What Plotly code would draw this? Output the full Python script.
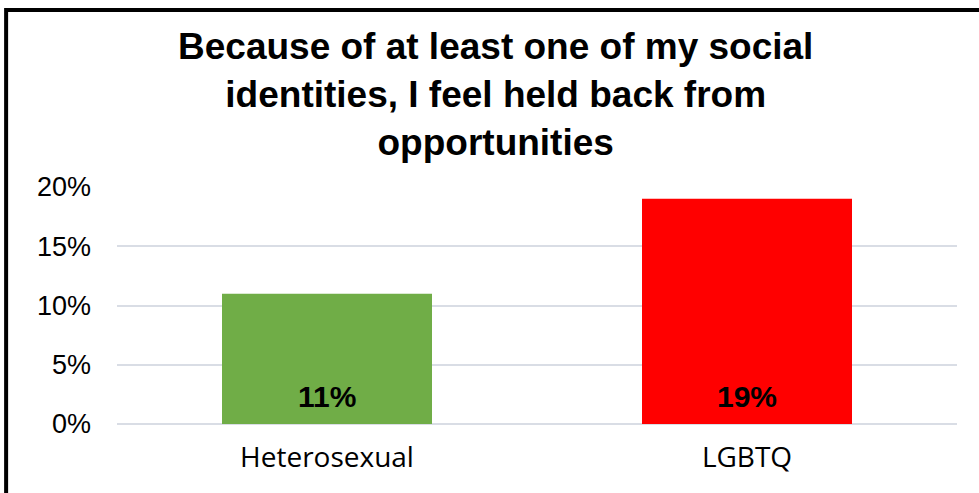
import plotly.graph_objects as go

categories = ["Heterosexual", "LGBTQ"]
values = [11, 19]
bar_colors = ["#70AD47", "#FF0000"]
value_labels = ["11%", "19%"]
tick_vals = [0, 5, 10, 15, 20]
tick_text = ["0%", "5%", "10%", "15%", "20%"]
title_lines = [
    "Because of at least one of my social",
    "identities, I feel held back from",
    "opportunities",
]

fig = go.Figure()
fig.add_trace(go.Bar(
    x=categories,
    y=values,
    marker=dict(color=bar_colors, line=dict(width=0)),
    width=0.5,
    hoverinfo="skip",
))

# value labels sitting at the base of each bar
for cat, val, lab in zip(categories, values, value_labels):
    fig.add_annotation(
        x=cat, y=0, text=f"<b>{lab}</b>", showarrow=False,
        yanchor="bottom", yshift=9,
        font=dict(family="Liberation Sans, Arial", size=30, color="#000000"),
    )

# chart title
fig.add_annotation(
    xref="paper", yref="paper", x=0.45, y=1.392,
    xanchor="center", yanchor="middle", showarrow=False,
    text="<b>" + "<br>".join(title_lines) + "</b>",
    font=dict(family="Liberation Sans, Arial", size=37, color="#000000"),
)

# frame around the chart area
fig.add_shape(
    type="rect", xref="paper", yref="paper",
    x0=-0.132, x1=1.2, y0=-0.5, y1=1.747,
    line=dict(color="#000000", width=4), fillcolor="rgba(0,0,0,0)",
    layer="above",
)

fig.update_layout(
    width=979, height=493,
    margin=dict(l=117, r=22, t=187, b=69),
    paper_bgcolor="#FFFFFF", plot_bgcolor="#FFFFFF",
    showlegend=False,
    xaxis=dict(
        showgrid=False, showline=False, ticks="",
        tickfont=dict(family="Open Sans, Liberation Sans", size=28, color="#000000"),
        range=[-0.5, 1.5], ticklabelstandoff=14,
    ),
    yaxis=dict(
        range=[0, 20], tickvals=tick_vals, ticktext=tick_text,
        showgrid=True, gridcolor="#D9DDE5", gridwidth=2,
        zeroline=True, zerolinecolor="#D9DDE5", zerolinewidth=2,
        showline=False, ticks="", ticklabelstandoff=25,
        tickfont=dict(family="Liberation Sans, Arial", size=27, color="#000000"),
    ),
)

fig.write_html("out.html")
